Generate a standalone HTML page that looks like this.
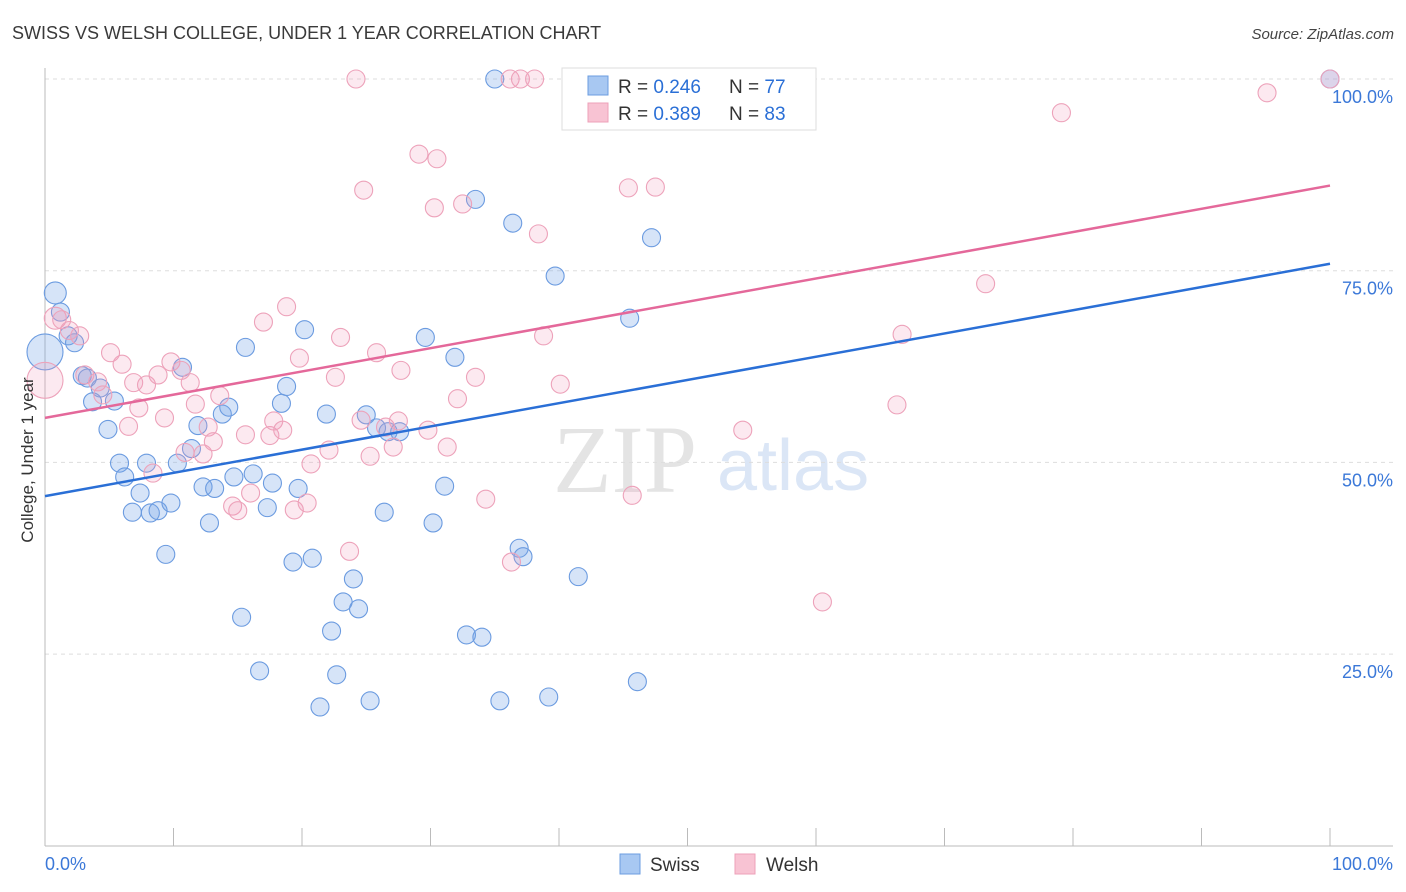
<!DOCTYPE html>
<html><head><meta charset="utf-8">
<style>
body{margin:0;background:#fff;font-family:"Liberation Sans",sans-serif;}
svg{display:block}
</style></head>
<body>
<svg id="chart" width="1406" height="892" xmlns="http://www.w3.org/2000/svg">
<text x="12" y="39" font-size="18" fill="#3a3a3a">SWISS VS WELSH COLLEGE, UNDER 1 YEAR CORRELATION CHART</text>
<text x="1394" y="39" font-size="15" fill="#444" text-anchor="end" font-style="italic">Source: ZipAtlas.com</text>
<g>
<text x="553" y="492" font-size="96" fill="#e4e4e4" font-family="Liberation Serif,serif">ZIP</text>
<text x="717" y="490" font-size="72" fill="#dbe6f6">atlas</text>
</g>
<g id="grid"></g>
<g id="axes"></g>
<g id="pts"></g>
<g id="lines"></g>
<g>
<rect x="562" y="68" width="254" height="62" fill="#fff" stroke="#ddd"/>
<rect x="588" y="76" width="20" height="19" fill="#a8c8f2" stroke="#6b9de0"/>
<rect x="588" y="103" width="20" height="19" fill="#f8c3d3" stroke="#eea0b8"/>
<text x="618" y="93" font-size="19" fill="#333">R = <tspan fill="#2a6fd6">0.246</tspan></text>
<text x="729" y="93" font-size="19" fill="#333">N = <tspan fill="#2a6fd6">77</tspan></text>
<text x="618" y="120" font-size="19" fill="#333">R = <tspan fill="#2a6fd6">0.389</tspan></text>
<text x="729" y="120" font-size="19" fill="#333">N = <tspan fill="#2a6fd6">83</tspan></text>
</g>
<g>
<rect x="620" y="854" width="20" height="20" fill="#a8c8f2" stroke="#6b9de0"/>
<text x="650" y="871" font-size="19" fill="#333">Swiss</text>
<rect x="735" y="854" width="20" height="20" fill="#f8c3d3" stroke="#eea0b8"/>
<text x="766" y="871" font-size="19" fill="#333">Welsh</text>
</g>
<text transform="translate(33,460) rotate(-90)" font-size="17" fill="#333" text-anchor="middle">College, Under 1 year</text>
</svg>
<script>
const swissX=[0.8,1.2,1.8,2.3,0,2.9,3.3,4.3,3.7,5.4,4.9,5.8,6.2,7.4,6.8,8.2,8.8,9.8,7.9,10.3,9.4,10.7,11.4,11.9,12.3,13.2,12.8,13.8,14.3,14.7,16.2,15.6,15.3,16.7,17.3,17.7,18.4,18.8,20.2,19.7,19.3,20.8,21.4,21.9,22.3,22.7,23.2,24.0,24.4,25.0,25.8,25.3,26.4,26.7,27.6,29.6,31.9,31.1,30.2,32.8,34.0,33.5,36.4,35.0,35.4,36.9,37.2,39.2,39.7,41.5,45.5,47.2,46.1,100,51.4,50.0];
const swissY=[72.1,69.6,66.5,65.6,64.4,61.3,61.0,59.7,57.9,58.0,54.3,49.9,48.1,46.0,43.5,43.4,43.7,44.7,49.9,49.9,38.0,62.4,51.8,54.8,46.8,46.6,42.1,56.3,57.2,48.1,48.5,65.0,29.8,22.8,44.1,47.3,57.7,59.9,67.3,46.6,37.0,37.5,18.1,56.3,28.0,22.3,31.8,34.8,30.9,56.2,54.5,18.9,43.5,54.0,54.0,66.3,63.7,46.9,42.1,27.5,27.2,84.3,81.2,100,18.9,38.8,37.7,19.4,74.3,35.1,68.8,79.3,21.4,100,100,100];
const welshX=[0,0.8,1.3,1.9,2.7,3.1,4.1,4.5,5.1,6.0,6.5,7.3,6.9,7.9,8.4,8.8,9.3,9.8,10.6,10.9,11.3,11.7,12.3,12.7,13.1,13.6,14.6,15.0,15.6,16.0,17.0,17.5,17.8,18.5,18.8,19.4,19.8,20.4,20.7,22.1,22.6,23.0,23.7,24.2,24.6,24.8,25.3,25.8,26.5,27.1,27.5,27.7,29.1,30.5,30.3,29.8,31.3,32.1,32.5,33.5,34.3,36.2,37.0,38.1,36.3,38.4,38.8,40.1,41.2,45.4,45.7,47.5,54.3,60.5,66.3,66.7,73.2,79.1,95.1,100];
const welshY=[60.7,68.8,68.6,67.2,66.5,61.4,60.5,58.8,64.3,62.8,54.7,57.1,60.4,60.1,48.6,61.4,55.8,63.1,62.0,51.3,60.4,57.6,51.1,54.6,52.7,58.7,44.3,43.7,53.6,46.0,68.3,53.5,55.4,54.2,70.3,43.8,63.6,44.7,49.8,51.6,61.1,66.3,38.4,100,55.5,85.5,50.8,64.3,54.6,52.0,55.4,62.0,90.2,89.6,83.2,54.2,52.0,58.3,83.7,61.1,45.2,100,100,100,37.0,79.8,66.5,60.2,100,85.8,45.7,85.9,54.2,31.8,57.5,66.7,73.3,95.6,98.2,100];
const swissTrend=[45.6,75.9];
const welshTrend=[55.8,86.1];
const yTicks=[25,50,75,100];
const yTickLabels=["25.0%","50.0%","75.0%","100.0%"];
const xTicks=[0,10,20,30,40,50,60,70,80,90,100];
const swissHuge=[4], swissBig=[0];
const welshHuge=[0], welshBig=[1];

const NS="http://www.w3.org/2000/svg";
const sx=v=>45+v*12.85, sy=v=>845.75-v*7.6675;
function mk(tag,attrs,parent){const e=document.createElementNS(NS,tag);for(const k in attrs)e.setAttribute(k,attrs[k]);parent.appendChild(e);return e;}
const grid=document.getElementById('grid'),axes=document.getElementById('axes'),pts=document.getElementById('pts'),lines=document.getElementById('lines');
yTicks.forEach((t,i)=>{
  const l=mk('line',{x1:45,x2:1393,y1:sy(t),y2:sy(t),stroke:'#ddd','stroke-dasharray':'4,4'},grid);
  
  
  const tx=mk('text',{x:1393,y:sy(t)+24,'font-size':18,fill:'#3b78d8','text-anchor':'end'},axes);
  tx.textContent=yTickLabels[i];
  
  
});
const ya=mk('line',{x1:45,x2:45,y1:68,y2:846,stroke:'#bbb'},axes);


const xa=mk('line',{x1:45,x2:1393,y1:846,y2:846,stroke:'#bbb'},axes);


xTicks.forEach(t=>{
  const l=mk('line',{x1:sx(t),x2:sx(t),y1:828,y2:846,stroke:'#bbb'},axes);
  
  
});
[[0,'0.0%','start',45],[100,'100.0%','end',1393]].forEach(a=>{
  const tx=mk('text',{x:a[3],y:870,'font-size':18,fill:'#3b78d8','text-anchor':a[2]},axes);
  tx.textContent=a[1];
  
  
});
function drawPts(X,Y,huge,big,fill,stroke,name){
  X.forEach((x,i)=>{
    const r=huge.includes(i)?18:(big.includes(i)?11:9);
    const c=mk('circle',{cx:sx(x),cy:sy(Y[i]),r:r,fill:fill,stroke:stroke,'stroke-width':1.1},pts);
    
    
  });
}
drawPts(swissX,swissY,swissHuge,swissBig,'rgba(120,165,232,0.3)','#6b9be0','swiss-point');
drawPts(welshX,welshY,welshHuge,welshBig,'rgba(242,155,185,0.22)','#eda2ba','welsh-point');
const bl=mk('line',{x1:sx(0),y1:sy(swissTrend[0]),x2:sx(100),y2:sy(swissTrend[1]),stroke:'#2a6fd6','stroke-width':2.5},lines);


const pl=mk('line',{x1:sx(0),y1:sy(welshTrend[0]),x2:sx(100),y2:sy(welshTrend[1]),stroke:'#e4689a','stroke-width':2.5},lines);


</script>
</body></html>
